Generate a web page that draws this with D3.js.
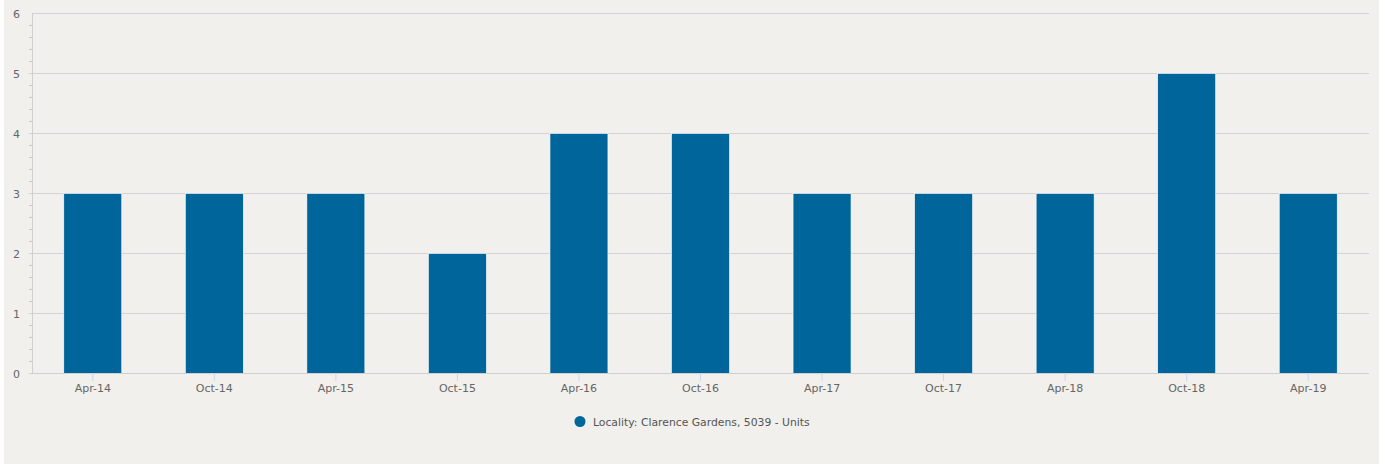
<!DOCTYPE html>
<html><head><meta charset="utf-8">
<script src="https://cdn.jsdelivr.net/npm/d3@7"></script>
<style>
html,body{margin:0;padding:0;background:#fff;}
svg{display:block;font-family:"DejaVu Sans",sans-serif;}
</style></head>
<body>
<svg id="chart" width="1385" height="464"></svg>
<script>
const categories = ["Apr-14","Oct-14","Apr-15","Oct-15","Apr-16","Oct-16","Apr-17","Oct-17","Apr-18","Oct-18","Apr-19"];
const values = [3,3,3,2,4,4,3,3,3,5,3];
const yTicks = [0,1,2,3,4,5,6];
const seriesName = "Locality: Clarence Gardens, 5039 - Units";

(function(){
const svg = d3.select("#chart");
svg.append("rect").attr("x",4).attr("y",0).attr("width",1375).attr("height",464).attr("fill","#f1f0ec");

const pLeft = 32, pRight = 1369, pTop = 13, pBottom = 373;
const x = d3.scaleBand().domain(categories).range([pLeft,pRight]).paddingInner(0.523).paddingOuter(0.2615);
const y = d3.scaleLinear().domain([0,6]).range([pBottom,pTop]);

// minor ticks
const minor = d3.range(0,6.001,0.2).filter(v=>Math.abs(v-Math.round(v))>1e-6);
svg.append("g").selectAll("line").data(minor).join("line")
  .attr("x1",pLeft-3).attr("x2",pLeft).attr("y1",d=>Math.round(y(d))+0.5).attr("y2",d=>Math.round(y(d))+0.5)
  .attr("stroke","#c8c8c8").attr("stroke-width",1);

// gridlines
svg.append("g").selectAll("line").data(yTicks).join("line")
  .attr("x1",d=>d===6?pLeft:pLeft-3).attr("x2",pRight)
  .attr("y1",d=>Math.round(y(d))+0.5).attr("y2",d=>Math.round(y(d))+0.5)
  .attr("stroke","#d3d3d3").attr("stroke-width",1);

// left axis line
svg.append("line").attr("x1",pLeft+0.5).attr("x2",pLeft+0.5).attr("y1",pTop).attr("y2",pBottom)
  .attr("stroke","#cfcfcf");

// y labels
svg.append("g").selectAll("text").data(yTicks).join("text")
  .attr("x",20).attr("y",d=>y(d)+5).attr("text-anchor","end")
  .attr("font-size",11).attr("fill","#666").text(d=>d);

// bars
svg.append("g").selectAll("rect").data(values).join("rect")
  .attr("x",(d,i)=>x(categories[i])).attr("width",x.bandwidth())
  .attr("y",d=>y(d)+0.5).attr("height",d=>pBottom-y(d))
  .attr("fill","#00659a").attr("stroke","#ffffff").attr("stroke-width",0.6);

// bottom axis
const xAxis = d3.axisBottom(x).tickSize(8).tickPadding(3);
const gx = svg.append("g").attr("transform",`translate(0,${pBottom})`).call(xAxis);
gx.select(".domain").attr("stroke","#cfcfcf").attr("d",`M${pLeft},0.5H${pRight}`);
gx.selectAll(".tick line").attr("stroke","#ccd6eb");
gx.selectAll(".tick text").attr("font-size",11).attr("fill","#666").attr("font-family","DejaVu Sans");

// legend
svg.append("circle").attr("cx",580).attr("cy",421.5).attr("r",5.5).attr("fill","#00659a");
svg.append("text").attr("x",593).attr("y",425.5).attr("font-size",10.8).attr("fill","#555").text(seriesName);
})();
</script>
</body></html>
